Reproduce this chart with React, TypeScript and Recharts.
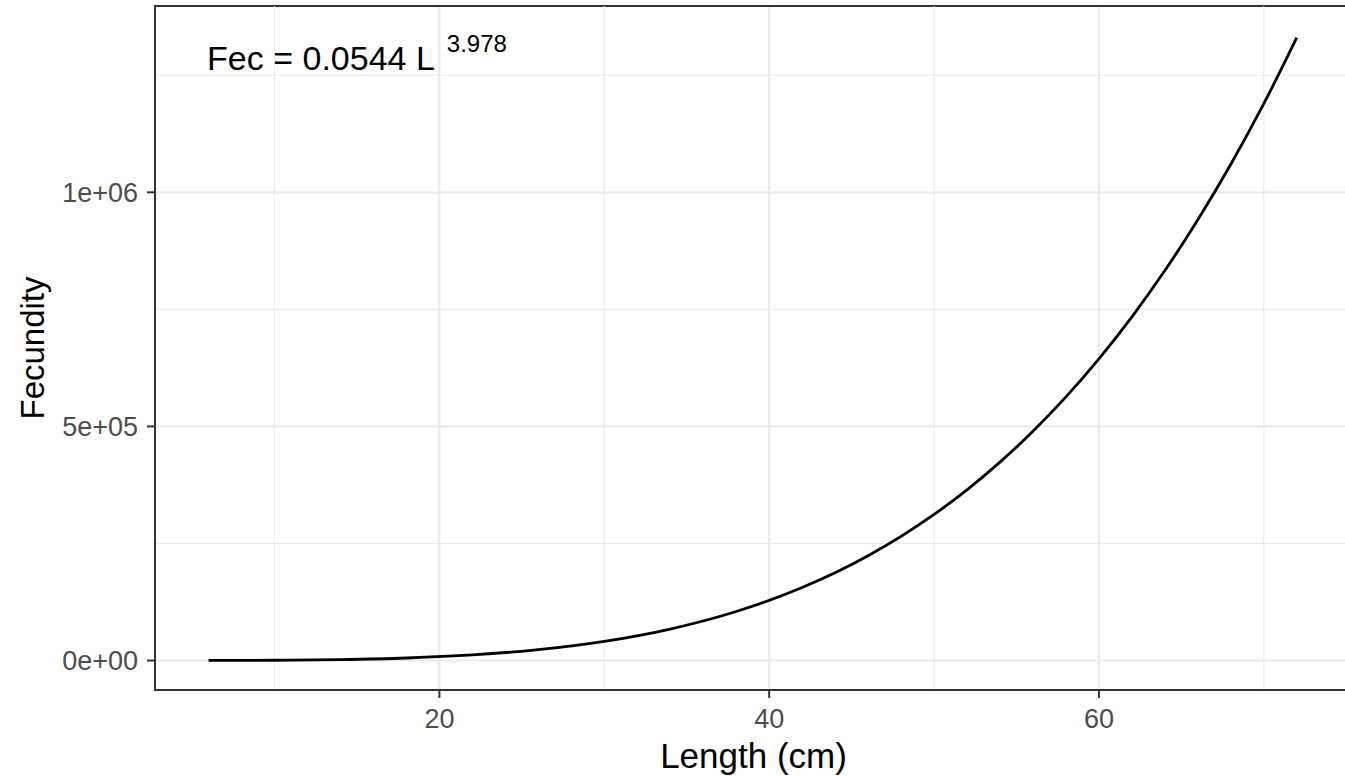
import React from 'react'
import { LineChart, Line, XAxis, YAxis, CartesianGrid, ReferenceLine, ReferenceArea, ReferenceDot } from 'recharts'

// curve: fecundity vs length
const lengthCm = [6, 10, 14, 18, 22, 26, 30, 34, 38, 42, 46, 48, 50, 52, 54, 56, 58, 60, 62, 64, 66, 68, 70, 72]
const fecundity = [68, 517, 1972, 5359, 11906, 23139, 40887, 67271, 104707, 155914, 223898, 265199, 311964, 364636, 423706, 489656, 563006, 644293, 734060, 832884, 941339, 1060031, 1189584, 1330656]

const xTicks = [20, 40, 60]
const xMinor = [10, 30, 50, 70]
const xDomain = [2.75, 75.35]
const yTicks = [0, 500000, 1000000]
const yTickLabels = ['0e+00', '5e+05', '1e+06']
const yMinor = [250000, 750000, 1250000]
const yDomain = [-63000, 1398000]

const font = '"Liberation Sans", Arial, Helvetica, sans-serif'
const gridCol = '#EBEBEB'
const axisCol = '#333333'

const data = lengthCm.map((l, i) => ({ l, f: fecundity[i] }))

export default function App() {
  return (
    <div style={{ position: 'absolute', left: 0, top: 0, width: 1345, height: 776, overflow: 'hidden', background: '#fff' }}>
      <LineChart width={1352} height={776} data={data} margin={{ top: 6, right: 0, bottom: 0, left: 0 }} style={{ fontFamily: font }}>
        <CartesianGrid stroke={gridCol} strokeWidth={2.2} />
        {xMinor.map(v => <ReferenceLine key={'x' + v} x={v} stroke={gridCol} strokeWidth={1.1} />)}
        {yMinor.map(v => <ReferenceLine key={'y' + v} y={v} stroke={gridCol} strokeWidth={1.1} />)}
        <ReferenceArea
          x1={xDomain[0]} x2={xDomain[1]} y1={yDomain[0]} y2={yDomain[1]}
          fill="none" fillOpacity={0} stroke={axisCol} strokeWidth={2} strokeOpacity={1} ifOverflow="visible"
        />
        <XAxis
          dataKey="l" type="number" domain={xDomain} ticks={xTicks} allowDataOverflow
          height={86} tickSize={8} tickMargin={11}
          stroke={axisCol} strokeWidth={2}
          axisLine={{ stroke: axisCol, strokeWidth: 2 }} tickLine={{ stroke: axisCol, strokeWidth: 2 }}
          tick={{ fill: '#4D4D4D', fontSize: 27, fontFamily: font, strokeWidth: 0 }}
          label={{
            content: (p: any) => {
              const vb = p.viewBox
              return <text x={vb.x + vb.width / 2} y={vb.y + 78} textAnchor="middle" fontSize={35} fontFamily={font} fill="#000">Length (cm)</text>
            }
          }}
        />
        <YAxis
          type="number" domain={yDomain} ticks={yTicks} allowDataOverflow
          width={155} tickSize={8} tickMargin={9}
          stroke={axisCol} strokeWidth={2}
          tickFormatter={(v: number) => yTickLabels[yTicks.indexOf(v)]}
          axisLine={{ stroke: axisCol, strokeWidth: 2 }} tickLine={{ stroke: axisCol, strokeWidth: 2 }}
          tick={{ fill: '#4D4D4D', fontSize: 27, fontFamily: font, strokeWidth: 0 }}
          label={{
            content: (p: any) => {
              const vb = p.viewBox
              const cx = vb.x + 44
              const cy = vb.y + vb.height / 2
              return <text x={cx} y={cy} transform={`rotate(-90, ${cx}, ${cy})`} textAnchor="middle" fontSize={33} fontFamily={font} fill="#000">Fecundity</text>
            }
          }}
        />
        <Line type="monotone" dataKey="f" stroke="#000" strokeWidth={2.8} dot={false} isAnimationActive={false} />
        <ReferenceDot
          x={15} y={1300000} r={1} fill="none" stroke="none"
          label={{
            content: (p: any) => {
              const vb = p.viewBox
              const cx = vb.x + (vb.width || 0) / 2
              const cy = vb.y + (vb.height || 0) / 2
              return (
                <text x={cx} y={cy + 18} textAnchor="middle" fontFamily={font} fill="#000">
                  <tspan fontSize={34}>Fec = 0.0544 L</tspan>
                  <tspan fontSize={24} dx={12} dy={-18}>3.978</tspan>
                </text>
              )
            }
          }}
        />
      </LineChart>
    </div>
  )
}
